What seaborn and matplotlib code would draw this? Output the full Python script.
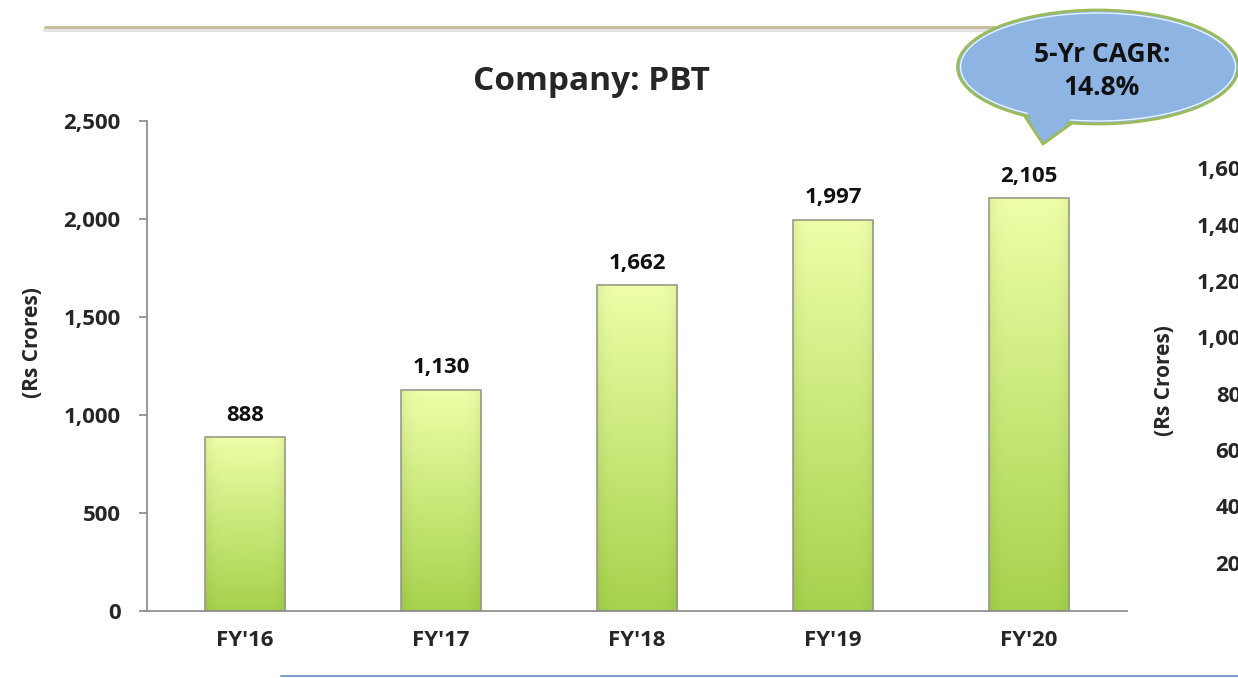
import numpy as np
import pandas as pd
import seaborn as sns
import matplotlib.pyplot as plt
from matplotlib.patches import Ellipse, Polygon
from matplotlib.colors import to_rgb
from matplotlib.ticker import FuncFormatter, FixedLocator, NullFormatter

# chart data
years = ["FY'16", "FY'17", "FY'18", "FY'19", "FY'20"]
pbt = [888, 1130, 1662, 1997, 2105]
y_ticks = [0, 500, 1000, 1500, 2000, 2500]
# ticks of the neighbouring (cut off) chart on the right
next_ticks = [200, 400, 600, 800, 1000, 1200, 1400, 1600]
cagr_text = "5-Yr CAGR:\n14.8%"

sns.set_style("white")
plt.rcParams['font.family'] = ['Open Sans', 'DejaVu Sans']
plt.rcParams['font.weight'] = 'bold'

W, H = 1238, 678
fig = plt.figure(figsize=(W / 100, H / 100), dpi=100)


def fx(px):
    return px / W


def fy(py):
    return 1 - py / H


df = pd.DataFrame({'year': years, 'pbt': pbt})

ax = fig.add_axes([fx(147), fy(611), fx(1127) - fx(147), fy(121) - fy(611)])
sns.barplot(ax=ax, data=df, x='year', y='pbt', color='#B8DC6A',
            width=0.41, edgecolor='#9a9a8a', linewidth=1.2)

# gradient fill for the bars (light top, greener bottom)
top = np.array(to_rgb('#EEFFA8'))
bot = np.array(to_rgb('#A6D24C'))
t = np.linspace(0, 1, 200)[:, None, None]
grad = top * (1 - t) + bot * t
xs = np.linspace(-1, 1, 40)[None, :, None]
grad = grad * (1 - 0.06 * xs ** 6)
for p in ax.patches:
    x0, y0 = p.get_x(), p.get_y()
    w, h = p.get_width(), p.get_height()
    im = ax.imshow(grad, extent=[x0, x0 + w, y0, y0 + h], aspect='auto',
                   origin='upper', zorder=1)
    im.set_clip_path(p)
    p.set_facecolor('none')
    p.set_zorder(2)

ax.bar_label(ax.containers[0], labels=[f"{v:,}" for v in pbt], padding=8,
             fontsize=16, fontweight='bold', color='#111111')

ax.set_ylim(0, 2500)
ax.set_xlim(-0.5, len(years) - 0.5)
ax.set_yticks(y_ticks)
ax.yaxis.set_major_formatter(FuncFormatter(lambda v, _: f"{int(v):,}"))
ax.xaxis.set_major_locator(FixedLocator(np.arange(len(years))))
ax.xaxis.set_minor_locator(FixedLocator(np.arange(len(years) + 1) - 0.5))
ax.xaxis.set_minor_formatter(NullFormatter())
ax.tick_params(axis='x', which='major', length=0, pad=14, labelsize=16)
ax.tick_params(axis='x', which='minor', length=6, color='#888888', width=1.2)
ax.tick_params(axis='y', length=6, color='#888888', width=1.2, pad=13, labelsize=16)
ax.tick_params(axis='y', left=True)
for lab in ax.get_xticklabels() + ax.get_yticklabels():
    lab.set_fontweight('bold')
ax.set_xlabel('')
ax.set_ylabel('(Rs Crores)', fontsize=15, fontweight='bold')
ax.yaxis.set_label_coords((43 - 147) / 980, 0.547)
sns.despine(ax=ax)
for s in ['left', 'bottom']:
    ax.spines[s].set_color('#888888')
    ax.spines[s].set_linewidth(1.2)
ax.set_title('Company: PBT', fontsize=24, fontweight='bold', pad=22, x=0.453)

# neighbouring chart, mostly outside the slide crop
ax2 = fig.add_axes([fx(1262), fy(619), 0.5, fy(112) - fy(619)])
ax2.set_ylim(0, 1800)
ax2.set_yticks(next_ticks)
ax2.yaxis.set_major_formatter(FuncFormatter(lambda v, _: f"{int(v):,}"))
ax2.set_xticks([])
ax2.tick_params(axis='y', length=0, pad=6, labelsize=16)
for lab in ax2.get_yticklabels():
    lab.set_fontweight('bold')
ax2.set_ylabel('(Rs Crores)', fontsize=15, fontweight='bold')
ax2.yaxis.set_label_coords((1175 - 1262) / (0.5 * W), 0.47)
for s in ax2.spines.values():
    s.set_visible(False)

# slide decoration lines
fig.add_artist(plt.Line2D([fx(45), fx(1105)], [fy(30), fy(30)], color='#e4e4e4',
                          lw=3, transform=fig.transFigure))
fig.add_artist(plt.Line2D([fx(45), fx(1105)], [fy(27), fy(27)], color='#C4BC96',
                          lw=2, transform=fig.transFigure))
fig.add_artist(plt.Line2D([fx(281), fx(1238)], [fy(676), fy(676)], color='#7F9FC8',
                          lw=1.5, transform=fig.transFigure))

# CAGR callout bubble
tail = [(fx(1022), fy(112)), (fx(1043), fy(144)), (fx(1082), fy(116))]
fig.add_artist(Polygon(tail, closed=True, transform=fig.transFigure,
                       facecolor='#8DB4E2', edgecolor='#9BBB59', lw=2, zorder=5))
fig.add_artist(Ellipse((fx(1098), fy(67)), fx(281), 114 / H, transform=fig.transFigure,
                       facecolor='#8DB4E2', edgecolor='#9BBB59', lw=2, zorder=6))
fig.add_artist(Ellipse((fx(1098), fy(67)), fx(275), 108 / H, transform=fig.transFigure,
                       facecolor='none', edgecolor='#e8f4ff', lw=1, zorder=6))
inner = [(fx(1026), fy(110)), (fx(1043), fy(140)), (fx(1078), fy(114))]
fig.add_artist(Polygon(inner, closed=True, transform=fig.transFigure,
                       facecolor='#8DB4E2', edgecolor='none', zorder=7))
fig.text(fx(1102), fy(71), cagr_text, ha='center', va='center', fontsize=19,
         fontweight='bold', color='#111111', linespacing=1.3, zorder=8)

fig.savefig('out.png', dpi=100)
